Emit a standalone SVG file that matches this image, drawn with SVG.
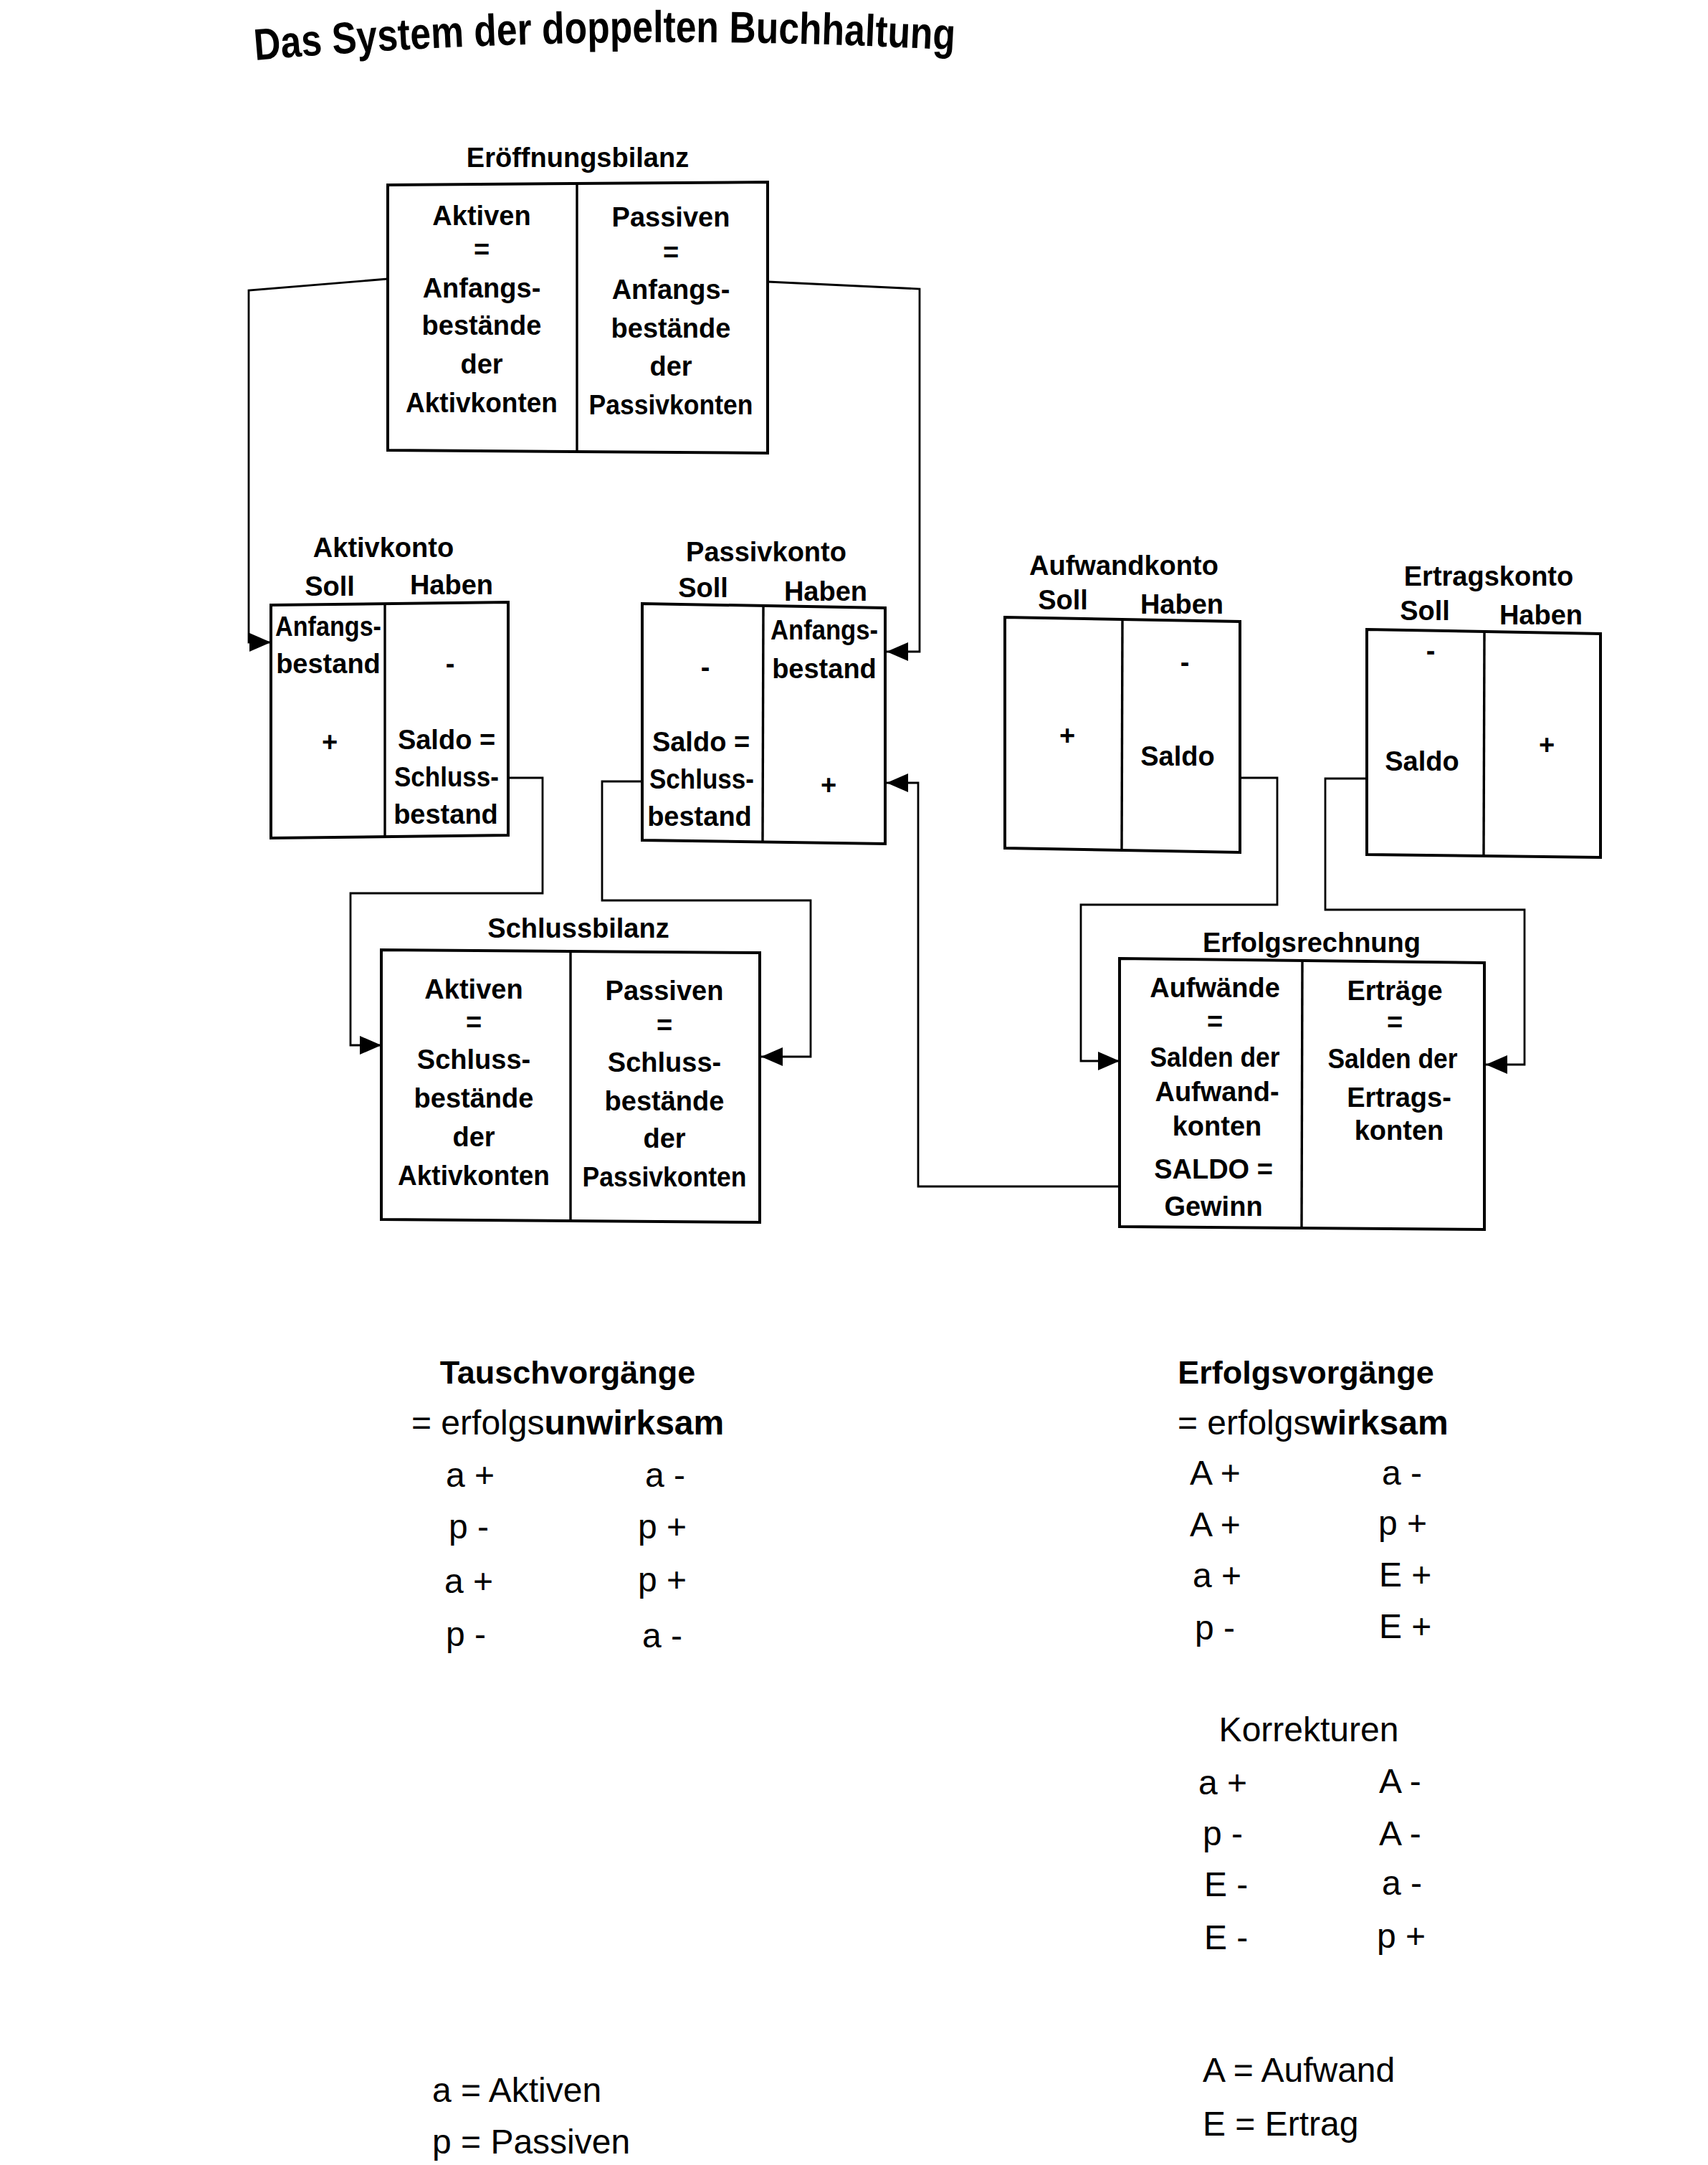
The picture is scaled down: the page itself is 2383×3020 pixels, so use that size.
<svg xmlns="http://www.w3.org/2000/svg" width="2383" height="3020" viewBox="0 0 2383 3020">
  <style>
    .bx { fill: none; stroke: #000; stroke-width: 4; }
    .dv { fill: none; stroke: #000; stroke-width: 3.4; }
    .cn { fill: none; stroke: #000; stroke-width: 2.8; marker-end: url(#ah); }
    .lb { font-family: "Liberation Sans", Arial, sans-serif; font-weight: bold; font-size: 38px; text-anchor: middle; fill: #000; }
    .hd { font-family: "Liberation Sans", Arial, sans-serif; font-weight: bold; font-size: 45px; text-anchor: middle; fill: #000; }
    .tx { font-family: "Liberation Sans", Arial, sans-serif; font-size: 48px; fill: #000; }
    .ti { font-family: "Liberation Sans", Arial, sans-serif; font-weight: bold; font-size: 62px; fill: #000; }
  </style>
  <defs>
    <marker id="ah" markerUnits="userSpaceOnUse" markerWidth="32" markerHeight="30" refX="30" refY="15" orient="auto">
      <path d="M0,2 L30,15 L0,28 z" fill="#000"/>
    </marker>
    <path id="titleCurve" d="M356,84 Q840,42 1335,70"/>
  </defs>
  <rect width="2383" height="3020" fill="#fff"/>

  <!-- heading -->
  <text class="ti"><textPath href="#titleCurve" textLength="977" lengthAdjust="spacingAndGlyphs">Das System der doppelten Buchhaltung</textPath></text>

  <!-- connectors between the accounts -->
  <g id="connectors">
    <path class="cn" d="M541,389 L347,405 L347,896 L378,896"/>
    <path class="cn" d="M1071,393 L1283,403 L1283,909 L1237,909"/>
    <path class="cn" d="M1562,1655 L1281,1655 L1281,1092 L1237,1092"/>
    <path class="cn" d="M709,1085 L757,1085 L757,1246 L489,1246 L489,1458 L532,1458"/>
    <path class="cn" d="M896,1090 L840,1090 L840,1256 L1131,1256 L1131,1474 L1062,1474"/>
    <path class="cn" d="M1730,1085 L1782,1085 L1782,1262 L1508,1262 L1508,1480 L1562,1480"/>
    <path class="cn" d="M1907,1086 L1849,1086 L1849,1269 L2127,1269 L2127,1485 L2073,1485"/>
  </g>

  <!-- opening balance -->
  <g id="eroeffnungsbilanz">
    <text class="lb" x="806" y="233">Eröffnungsbilanz</text>
    <path class="bx" d="M541,258 L1071,254 L1071,632 L541,628 Z"/>
    <path class="dv" d="M805,256 L805,630"/>
    <text class="lb" x="672" y="314">Aktiven</text>
    <text class="lb" x="672" y="361">=</text>
    <text class="lb" x="672" y="415">Anfangs-</text>
    <text class="lb" x="672" y="467">bestände</text>
    <text class="lb" x="672" y="521">der</text>
    <text class="lb" x="672" y="575" textLength="212" lengthAdjust="spacingAndGlyphs">Aktivkonten</text>
    <text class="lb" x="936" y="316">Passiven</text>
    <text class="lb" x="936" y="365">=</text>
    <text class="lb" x="936" y="417">Anfangs-</text>
    <text class="lb" x="936" y="471">bestände</text>
    <text class="lb" x="936" y="524">der</text>
    <text class="lb" x="936" y="578" textLength="229" lengthAdjust="spacingAndGlyphs">Passivkonten</text>
  </g>

  <!-- asset account -->
  <g id="aktivkonto">
    <text class="lb" x="535" y="777">Aktivkonto</text>
    <text class="lb" x="460" y="831">Soll</text>
    <text class="lb" x="630" y="829">Haben</text>
    <path class="bx" d="M378,844 L709,840 L709,1165 L378,1169 Z"/>
    <path class="dv" d="M537,842 L537,1167"/>
    <text class="lb" x="458" y="887" textLength="148" lengthAdjust="spacingAndGlyphs">Anfangs-</text>
    <text class="lb" x="458" y="939">bestand</text>
    <text class="lb" x="460" y="1048">+</text>
    <text class="lb" x="628" y="939">-</text>
    <text class="lb" x="623" y="1045">Saldo =</text>
    <text class="lb" x="623" y="1097" textLength="146" lengthAdjust="spacingAndGlyphs">Schluss-</text>
    <text class="lb" x="622" y="1149">bestand</text>
  </g>

  <!-- liability account -->
  <g id="passivkonto">
    <text class="lb" x="1069" y="783">Passivkonto</text>
    <text class="lb" x="981" y="833">Soll</text>
    <text class="lb" x="1152" y="838">Haben</text>
    <path class="bx" d="M896,842 L1235,848 L1235,1177 L896,1172 Z"/>
    <path class="dv" d="M1065,845 L1064,1175"/>
    <text class="lb" x="984" y="944">-</text>
    <text class="lb" x="978" y="1048">Saldo =</text>
    <text class="lb" x="979" y="1100" textLength="146" lengthAdjust="spacingAndGlyphs">Schluss-</text>
    <text class="lb" x="976" y="1152">bestand</text>
    <text class="lb" x="1150" y="892" textLength="150" lengthAdjust="spacingAndGlyphs">Anfangs-</text>
    <text class="lb" x="1150" y="946">bestand</text>
    <text class="lb" x="1156" y="1108">+</text>
  </g>

  <!-- closing balance -->
  <g id="schlussbilanz">
    <text class="lb" x="807" y="1308">Schlussbilanz</text>
    <path class="bx" d="M532,1325 L1060,1329 L1060,1705 L532,1701 Z"/>
    <path class="dv" d="M796,1327 L796,1703"/>
    <text class="lb" x="661" y="1393">Aktiven</text>
    <text class="lb" x="661" y="1439">=</text>
    <text class="lb" x="661" y="1491">Schluss-</text>
    <text class="lb" x="661" y="1545">bestände</text>
    <text class="lb" x="661" y="1599">der</text>
    <text class="lb" x="661" y="1653" textLength="212" lengthAdjust="spacingAndGlyphs">Aktivkonten</text>
    <text class="lb" x="927" y="1395">Passiven</text>
    <text class="lb" x="927" y="1443">=</text>
    <text class="lb" x="927" y="1495">Schluss-</text>
    <text class="lb" x="927" y="1549">bestände</text>
    <text class="lb" x="927" y="1601">der</text>
    <text class="lb" x="927" y="1655" textLength="229" lengthAdjust="spacingAndGlyphs">Passivkonten</text>
  </g>

  <!-- expense account -->
  <g id="aufwandkonto">
    <text class="lb" x="1568" y="802">Aufwandkonto</text>
    <text class="lb" x="1483" y="850">Soll</text>
    <text class="lb" x="1649" y="856">Haben</text>
    <path class="bx" d="M1402,861 L1730,867 L1730,1189 L1402,1183 Z"/>
    <path class="dv" d="M1566,864 L1565,1186"/>
    <text class="lb" x="1489" y="1039">+</text>
    <text class="lb" x="1653" y="937">-</text>
    <text class="lb" x="1643" y="1068">Saldo</text>
  </g>

  <!-- revenue account -->
  <g id="ertragskonto">
    <text class="lb" x="2077" y="817">Ertragskonto</text>
    <text class="lb" x="1988" y="865">Soll</text>
    <text class="lb" x="2150" y="871">Haben</text>
    <path class="bx" d="M1907,878 L2233,884 L2233,1196 L1907,1192 Z"/>
    <path class="dv" d="M2071,881 L2070,1194"/>
    <text class="lb" x="1996" y="921">-</text>
    <text class="lb" x="1984" y="1075">Saldo</text>
    <text class="lb" x="2158" y="1052">+</text>
  </g>

  <!-- income statement -->
  <g id="erfolgsrechnung">
    <text class="lb" x="1830" y="1328">Erfolgsrechnung</text>
    <path class="bx" d="M1562,1337 L2071,1343 L2071,1715 L1562,1711 Z"/>
    <path class="dv" d="M1817,1340 L1816,1713"/>
    <text class="lb" x="1695" y="1391">Aufwände</text>
    <text class="lb" x="1695" y="1438">=</text>
    <text class="lb" x="1695" y="1488" textLength="181" lengthAdjust="spacingAndGlyphs">Salden der</text>
    <text class="lb" x="1698" y="1536">Aufwand-</text>
    <text class="lb" x="1698" y="1584">konten</text>
    <text class="lb" x="1693" y="1644">SALDO =</text>
    <text class="lb" x="1693" y="1696">Gewinn</text>
    <text class="lb" x="1946" y="1395">Erträge</text>
    <text class="lb" x="1946" y="1439">=</text>
    <text class="lb" x="1943" y="1490" textLength="181" lengthAdjust="spacingAndGlyphs">Salden der</text>
    <text class="lb" x="1952" y="1544">Ertrags-</text>
    <text class="lb" x="1952" y="1590">konten</text>
  </g>

  <!-- exchange transactions -->
  <g id="tauschvorgaenge">
    <text class="hd" x="792" y="1930">Tauschvorgänge</text>
    <text class="tx" x="574" y="2001">= erfolgs<tspan font-weight="bold">unwirksam</tspan></text>
    <text class="tx" x="622" y="2074">a +</text>
    <text class="tx" x="900" y="2074">a -</text>
    <text class="tx" x="626" y="2146">p -</text>
    <text class="tx" x="890" y="2146">p +</text>
    <text class="tx" x="620" y="2222">a +</text>
    <text class="tx" x="890" y="2220">p +</text>
    <text class="tx" x="622" y="2296">p -</text>
    <text class="tx" x="896" y="2298">a -</text>
  </g>

  <!-- transactions affecting profit -->
  <g id="erfolgsvorgaenge">
    <text class="hd" x="1822" y="1930">Erfolgsvorgänge</text>
    <text class="tx" x="1643" y="2001">= erfolgs<tspan font-weight="bold">wirksam</tspan></text>
    <text class="tx" x="1660" y="2071">A +</text>
    <text class="tx" x="1928" y="2071">a -</text>
    <text class="tx" x="1660" y="2143">A +</text>
    <text class="tx" x="1923" y="2141">p +</text>
    <text class="tx" x="1664" y="2214">a +</text>
    <text class="tx" x="1924" y="2213">E +</text>
    <text class="tx" x="1667" y="2287">p -</text>
    <text class="tx" x="1924" y="2285">E +</text>
  </g>

  <!-- corrections -->
  <g id="korrekturen">
    <text class="tx" x="1826" y="2429" text-anchor="middle">Korrekturen</text>
    <text class="tx" x="1672" y="2503">a +</text>
    <text class="tx" x="1924" y="2501">A -</text>
    <text class="tx" x="1678" y="2574">p -</text>
    <text class="tx" x="1924" y="2574">A -</text>
    <text class="tx" x="1680" y="2645">E -</text>
    <text class="tx" x="1928" y="2643">a -</text>
    <text class="tx" x="1680" y="2719">E -</text>
    <text class="tx" x="1921" y="2717">p +</text>
  </g>

  <!-- legend -->
  <g id="legende">
    <text class="tx" x="603" y="2932">a = Aktiven</text>
    <text class="tx" x="603" y="3004">p = Passiven</text>
    <text class="tx" x="1678" y="2904">A = Aufwand</text>
    <text class="tx" x="1678" y="2979">E = Ertrag</text>
  </g>
</svg>
